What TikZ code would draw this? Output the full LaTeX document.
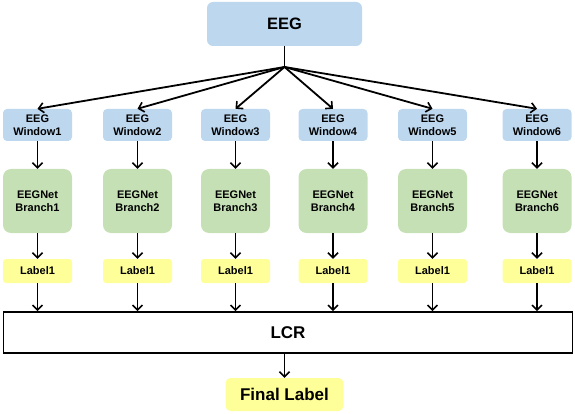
\documentclass[tikz,border=0pt]{standalone}
\usepackage{fontspec}
\setmainfont{Liberation Sans}
\usetikzlibrary{arrows.meta}
\definecolor{boxblue}{RGB}{189,215,238}
\definecolor{boxgreen}{RGB}{197,224,180}
\definecolor{boxyellow}{RGB}{255,255,153}
\tikzset{
  base/.style={inner sep=0pt, align=center, font=\bfseries\fontsize{11}{13.3}\selectfont},
  winbox/.style={base, fill=boxblue, rounded corners=4pt, minimum width=69pt, minimum height=32pt},
  branchbox/.style={base, fill=boxgreen, rounded corners=8pt, minimum width=69pt, minimum height=64pt},
  labbox/.style={base, fill=boxyellow, rounded corners=3pt, minimum width=69pt, minimum height=24pt},
  conn/.style={line width=1.8pt, -{Straight Barb[length=5pt,width=10pt,line width=1.6pt]}},
  plain/.style={line width=1.8pt}
}
\begin{document}
\begin{tikzpicture}[x=1pt,y=-1pt]
\useasboundingbox (0,0) rectangle (575,414);
\node[base, fill=boxblue, rounded corners=6pt, minimum width=155pt, minimum height=44pt,
  font=\bfseries\fontsize{16.5}{19}\selectfont] (eeg) at (284.5,24) {EEG};
\coordinate (j) at (284.5,67);
\foreach \i/\x in {1/37.5,2/137.5,3/235.5,4/333,5/432.5,6/537}{
  \node[winbox] (w\i) at (\x,125) {EEG\\Window\i};
  \node[branchbox] (b\i) at (\x,201) {EEGNet\\Branch\i};
  \node[labbox] (l\i) at (\x,271) {Label1};
}
\node[base, draw=black, line width=1.6pt, minimum width=569pt, minimum height=41pt,
  font=\bfseries\fontsize{17}{20}\selectfont] (lcr) at (288,332.5) {LCR};
\node[base, fill=boxyellow, rounded corners=5pt, minimum width=118pt, minimum height=33pt,
  font=\bfseries\fontsize{17}{20}\selectfont] (final) at (284.5,394.5) {Final Label};
\draw[plain] (eeg.south) -- (j);
\foreach \i in {1,...,6}{
  \draw[conn] (j) -- (w\i.north);
  \draw[conn] (w\i) -- (b\i);
  \draw[conn] (b\i) -- (l\i);
  \draw[conn] (l\i) -- (l\i.south |- lcr.north);
}
\draw[conn] (final.north |- lcr.south) -- (final.north);
\end{tikzpicture}
\end{document}
